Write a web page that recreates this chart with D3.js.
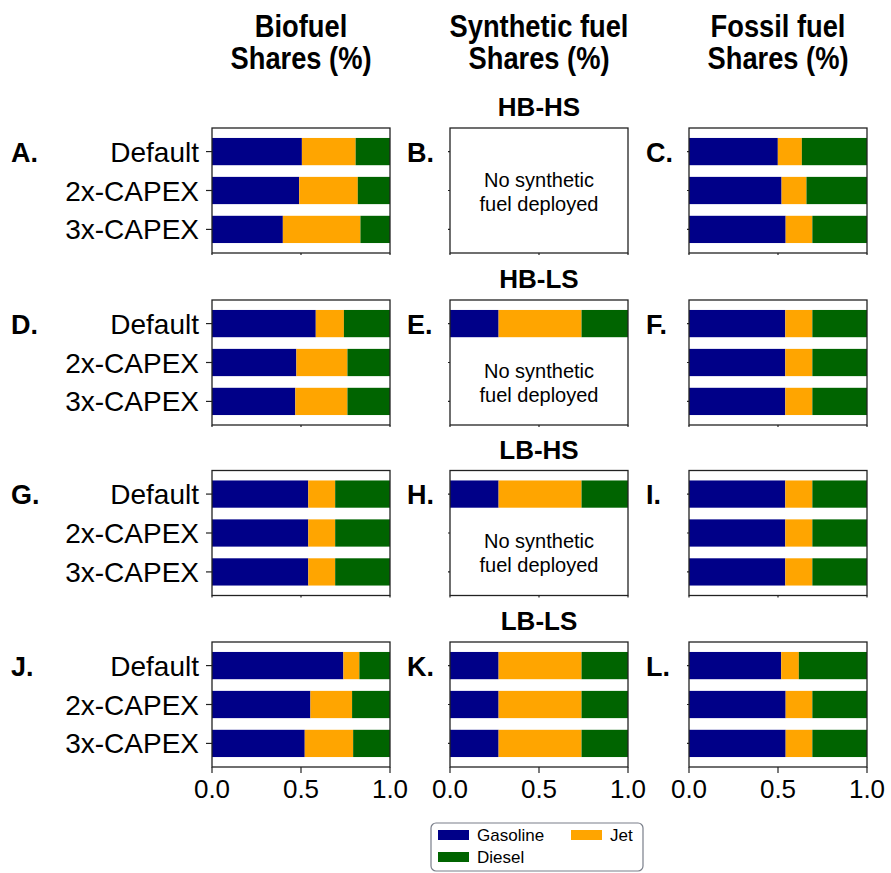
<!DOCTYPE html>
<html>
<head>
<meta charset="utf-8">
<script src="https://cdn.jsdelivr.net/npm/d3@7"></script>
<style>
  body { margin: 0; background: #fff; }
  svg { display: block; font-family: "Liberation Sans", Arial, Helvetica, sans-serif; }
</style>
</head>
<body>
<svg id="chart" width="891" height="873"></svg>
<script>
// ---------------- data ----------------
const categories = ["Default", "2x-CAPEX", "3x-CAPEX"];
const fuels = ["Gasoline", "Jet", "Diesel"];
const fuelColors = ["#000088", "#FFA500", "#006400"];
const columnTitles = [["Biofuel", "Shares (%)"], ["Synthetic fuel", "Shares (%)"], ["Fossil fuel", "Shares (%)"]];
const scenarios = ["HB-HS", "HB-LS", "LB-HS", "LB-LS"];
const panelLetters = [["A.", "B.", "C."], ["D.", "E.", "F."], ["G.", "H.", "I."], ["J.", "K.", "L."]];
const xTicks = [0.0, 0.5, 1.0];
const xTickLabels = ["0.0", "0.5", "1.0"];
const noSynText = ["No synthetic", "fuel deployed"];

// Biofuel shares [scenario][category]
const bioGasoline = [[0.505, 0.490, 0.398], [0.583, 0.474, 0.468], [0.541, 0.541, 0.541], [0.738, 0.553, 0.521]];
const bioJet      = [[0.302, 0.329, 0.436], [0.158, 0.287, 0.293], [0.151, 0.151, 0.151], [0.090, 0.234, 0.272]];
const bioDiesel   = [[0.193, 0.181, 0.166], [0.259, 0.239, 0.239], [0.308, 0.308, 0.308], [0.172, 0.213, 0.207]];

// Synthetic fuel shares (null = not deployed)
const synGasoline = [[null, null, null], [0.273, null, null], [0.273, null, null], [0.273, 0.273, 0.273]];
const synJet      = [[null, null, null], [0.466, null, null], [0.466, null, null], [0.466, 0.466, 0.466]];
const synDiesel   = [[null, null, null], [0.261, null, null], [0.261, null, null], [0.261, 0.261, 0.261]];

// Fossil fuel shares
const fosGasoline = [[0.499, 0.520, 0.543], [0.541, 0.541, 0.541], [0.541, 0.541, 0.541], [0.518, 0.543, 0.543]];
const fosJet      = [[0.135, 0.140, 0.150], [0.152, 0.152, 0.152], [0.152, 0.152, 0.152], [0.099, 0.150, 0.150]];
const fosDiesel   = [[0.366, 0.340, 0.307], [0.307, 0.307, 0.307], [0.307, 0.307, 0.307], [0.383, 0.307, 0.307]];

const columnData = [
  [bioGasoline, bioJet, bioDiesel],
  [synGasoline, synJet, synDiesel],
  [fosGasoline, fosJet, fosDiesel]
];

// ---------------- layout ----------------
const svg = d3.select("#chart");
const colLeft = [212, 450, 689];
const panelW = 178;
const rowTop = [128, 300, 470.5, 642];
const panelH = 125;

// column titles (condensed bold look)
columnTitles.forEach((lines, c) => {
  const cx = colLeft[c] + panelW / 2;
  const t = svg.append("text")
    .attr("transform", `translate(${cx},0) scale(0.88,1)`)
    .attr("text-anchor", "middle")
    .attr("font-weight", "bold")
    .attr("font-size", 31)
    .attr("fill", "#000");
  lines.forEach((ln, i) => {
    t.append("tspan").attr("x", 0).attr("y", 37 + i * 32).text(ln);
  });
});

const x = d3.scaleLinear().domain([0, 1]).range([0, panelW]);
const y = d3.scaleLinear().domain([-0.606, 2.606]).range([0, panelH]);
const barH = y(0.35) - y(-0.35);

scenarios.forEach((scen, r) => {
  // scenario title over middle column
  svg.append("text")
    .attr("x", colLeft[1] + panelW / 2)
    .attr("y", rowTop[r] - 12)
    .attr("text-anchor", "middle")
    .attr("font-weight", "bold")
    .attr("font-size", 26)
    .text(scen);

  for (let c = 0; c < 3; c++) {
    const g = svg.append("g").attr("transform", `translate(${colLeft[c]},${rowTop[r]})`);
    const [gas, jet, die] = columnData[c];
    const stacks = categories.map((cat, i) => ({
      cat, i, vals: [gas[r][i], jet[r][i], die[r][i]]
    }));

    stacks.forEach(s => {
      if (s.vals[0] === null) return;
      let cum = 0;
      s.vals.forEach((v, k) => {
        g.append("rect")
          .attr("x", x(cum))
          .attr("y", y(s.i) - barH / 2)
          .attr("width", x(cum + v) - x(cum))
          .attr("height", barH)
          .attr("fill", fuelColors[k]);
        cum += v;
      });
    });

    // no synthetic fuel text
    if (c === 1) {
      const missing = stacks.filter(s => s.vals[0] === null).map(s => s.i);
      if (missing.length) {
        const cy = y(d3.mean(missing));
        const t = g.append("text")
          .attr("text-anchor", "middle")
          .attr("font-size", 20)
          .attr("fill", "#000");
        noSynText.forEach((ln, i) => {
          t.append("tspan").attr("x", x(0.5)).attr("y", cy - 4 + i * 24).text(ln);
        });
      }
    }

    // y ticks
    categories.forEach((cat, i) => {
      g.append("line")
        .attr("x1", c === 0 ? -6 : -2).attr("x2", 0)
        .attr("y1", y(i)).attr("y2", y(i))
        .attr("stroke", "#222").attr("stroke-width", 1.2);
      if (c === 0) {
        g.append("text")
          .attr("x", -13)
          .attr("y", y(i) + 10)
          .attr("text-anchor", "end")
          .attr("font-size", 28)
          .text(cat);
      }
    });

    // x ticks
    xTicks.forEach((tv, k) => {
      g.append("line")
        .attr("x1", x(tv)).attr("x2", x(tv))
        .attr("y1", panelH).attr("y2", panelH + (r === 3 ? 6 : 2))
        .attr("stroke", "#222").attr("stroke-width", 1.2);
      if (r === 3) {
        g.append("text")
          .attr("x", x(tv))
          .attr("y", panelH + 31)
          .attr("text-anchor", "middle")
          .attr("font-size", 26)
          .text(xTickLabels[k]);
      }
    });

    // frame
    g.append("rect")
      .attr("x", 0).attr("y", 0)
      .attr("width", panelW).attr("height", panelH)
      .attr("fill", "none")
      .attr("stroke", "#222").attr("stroke-width", 1.3);

    // panel letter
    svg.append("text")
      .attr("x", c === 0 ? 11 : colLeft[c] - 43)
      .attr("y", rowTop[r] + y(0) + 10)
      .attr("font-weight", "bold")
      .attr("font-size", 27)
      .text(panelLetters[r][c]);
  }
});

// ---------------- legend ----------------
const lg = svg.append("g");
lg.append("rect")
  .attr("x", 431).attr("y", 823).attr("width", 212).attr("height", 48)
  .attr("rx", 5).attr("ry", 5)
  .attr("fill", "#fff").attr("stroke", "#7a7f8a").attr("stroke-width", 1.2);
const legendPos = [[438, 830], [571, 830], [438, 852]];
fuels.forEach((f, k) => {
  const [lx, ly] = legendPos[k];
  lg.append("rect").attr("x", lx).attr("y", ly).attr("width", 31).attr("height", 10).attr("fill", fuelColors[k]);
  lg.append("text").attr("x", lx + 39).attr("y", ly + 11).attr("font-size", 17).text(f);
});
</script>
</body>
</html>
